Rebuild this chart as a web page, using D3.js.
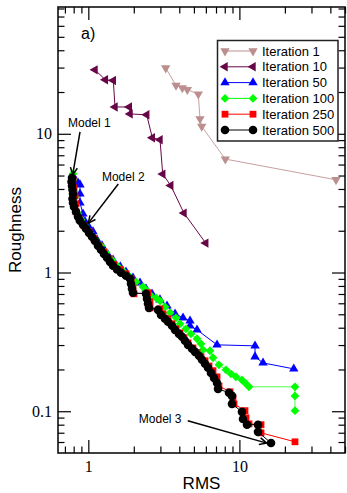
<!DOCTYPE html>
<html><head><meta charset="utf-8">
<script src="https://cdn.jsdelivr.net/npm/d3@7"></script>
<style>body{margin:0;background:#fff}svg{display:block}</style>
</head><body>
<svg id="c" width="347" height="493"></svg>
<script>
// ---- data ----
const seriesNames = ["Iteration 1","Iteration 10","Iteration 50","Iteration 100","Iteration 250","Iteration 500"];
const seriesColors = ["#bc8f8f","#670748","#0000ff","#00ff00","#ff0000","#000000"];
const iter1 = [[3.253,29.8],[3.805,22.3],[4.190,21.4],[4.521,20.8],[5.346,19.3],[5.486,12.8],[5.630,11.3],[8.067,6.57],[43.6,4.66]];
const iter10 = [[1.107,28.9],[1.296,24.5],[1.464,24.2],[1.502,15.6],[1.867,15.6],[1.888,13.9],[2.435,13.7],[2.652,9.36],[2.982,9.05],[3.108,5.12],[3.511,4.24],[4.298,2.68],[5.984,1.63]];
const iter50 = [[0.792,4.98],[0.855,4.43],[0.881,4.29],[0.881,3.69],[0.881,3.18],[0.922,2.65],[0.951,2.34],[1.011,2.12],[1.074,1.97],[1.142,1.72],[1.232,1.56],[1.350,1.34],[1.457,1.23],[1.628,1.10],[1.776,1.01],[1.976,0.916],[2.199,0.843],[2.409,0.763],[2.640,0.702],[2.982,0.636],[3.318,0.575],[3.749,0.504],[4.235,0.471],[4.711,0.448],[4.711,0.413],[5.242,0.386],[7.110,0.301],[12.69,0.296],[12.69,0.247],[14.33,0.223],[22.9,0.202]];
const iter100 = [[0.792,5.15],[0.792,4.66],[0.792,4.22],[0.804,3.82],[0.817,3.51],[0.829,3.08],[0.855,2.65],[0.895,2.40],[0.951,2.17],[1.026,1.93],[1.107,1.75],[1.213,1.56],[1.309,1.39],[1.435,1.23],[1.573,1.10],[1.723,1.01],[1.888,0.931],[2.069,0.857],[2.301,0.789],[2.409,0.750],[2.561,0.691],[2.806,0.657],[2.982,0.625],[3.218,0.566],[3.473,0.512],[3.805,0.471],[4.045,0.427],[4.433,0.393],[4.783,0.361],[5.242,0.333],[5.570,0.306],[5.742,0.277],[6.389,0.273],[6.688,0.243],[7.328,0.216],[8.153,0.199],[8.800,0.186],[9.495,0.177],[10.40,0.168],[11.06,0.158],[11.57,0.150],[23.33,0.150],[23.33,0.129],[23.33,0.101]];
const iter250 = [[0.792,4.66],[0.804,4.08],[0.817,3.57],[0.829,3.13],[0.829,2.74],[0.868,2.44],[0.937,2.17],[1.011,1.97],[1.091,1.75],[1.177,1.56],[1.270,1.41],[1.371,1.26],[1.480,1.14],[1.628,1.05],[1.776,0.979],[1.917,0.901],[1.976,0.776],[2.006,0.702],[2.484,0.714],[2.561,0.615],[2.561,0.556],[2.982,0.547],[3.122,0.504],[3.369,0.464],[3.581,0.427],[3.805,0.393],[4.045,0.367],[4.298,0.338],[4.569,0.311],[4.932,0.286],[5.242,0.264],[5.570,0.247],[5.921,0.231],[6.293,0.212],[6.688,0.196],[7.110,0.177],[7.328,0.152],[8.666,0.138],[9.072,0.125],[9.211,0.113],[10.89,0.101],[11.06,0.0896],[11.57,0.0811],[13.90,0.080],[13.90,0.0699],[23.33,0.0602]];
const iter500 = [[0.780,4.82],[0.774,4.51],[0.780,4.22],[0.786,3.95],[0.792,3.69],[0.786,3.40],[0.792,3.18],[0.804,2.98],[0.829,2.74],[0.855,2.52],[0.881,2.36],[0.922,2.21],[0.966,2.07],[1.011,1.93],[1.058,1.81],[1.107,1.69],[1.159,1.56],[1.213,1.46],[1.270,1.36],[1.330,1.28],[1.392,1.19],[1.457,1.12],[1.549,1.05],[1.646,0.995],[1.776,0.947],[1.888,0.901],[1.917,0.829],[1.946,0.763],[1.976,0.714],[2.409,0.702],[2.446,0.646],[2.484,0.595],[2.522,0.556],[2.893,0.538],[3.028,0.495],[3.218,0.464],[3.369,0.441],[3.581,0.413],[3.749,0.386],[3.984,0.361],[4.171,0.344],[4.365,0.322],[4.569,0.301],[4.858,0.282],[5.085,0.268],[5.404,0.251],[5.656,0.235],[5.921,0.220],[6.198,0.206],[6.488,0.189],[6.791,0.174],[7.110,0.160],[7.219,0.145],[8.535,0.136],[8.934,0.129],[8.934,0.113],[10.40,0.099],[10.56,0.088],[11.23,0.080],[13.28,0.080],[13.28,0.071],[16.19,0.059]];
const allSeries = [iter1, iter10, iter50, iter100, iter250, iter500];
const xMajorTicks = [1, 10];
const xMinorTicks = [0.7,0.8,0.9,2,3,4,5,6,7,8,9,20,30,40,50];
const yMajorTicks = [0.1, 1, 10];
const yTickLabels = ["0.1","1","10"];
const yMinorTicks = [0.06,0.07,0.08,0.09,0.2,0.3,0.4,0.5,0.6,0.7,0.8,0.9,2,3,4,5,6,7,8,9,20,30,40,50,60,70,80];
const xDomain = [0.63, 50];
const yDomain = [0.05, 82];
// annotations: [label, textX, textY, arrowFromX, arrowFromY, arrowToX, arrowToY, anchor]
const annotations = [
  ["Model 1", 0.734, 11.23, 0.881, 10.34, 0.788, 5.06, "start"],
  ["Model 2", 1.704, 4.58, 1.579, 4.34, 1.0, 2.27, "middle"],
  ["Model 3", 2.99, 0.0825, 4.55, 0.0853, 15.16, 0.0589, "middle"]
];

// ---- layout ----
const L = 58, R = 345, T = 7, B = 453;
const svg = d3.select("#c");
const x = d3.scaleLog().domain(xDomain).range([L, R]);
const y = d3.scaleLog().domain(yDomain).range([B, T]);

const markerTypes = ["tridown","trileft","triup","diamond","square","circle"];
function markerPath(type){
  if(type==="circle") return d3.symbol(d3.symbolCircle, 58)();
  if(type==="square") return d3.symbol(d3.symbolSquare, 46)();
  if(type==="diamond") return "M0,-4.4L4.4,0L0,4.4L-4.4,0Z";
  return d3.symbol(d3.symbolTriangle, 38)();
}
function markerRot(type){
  if(type==="tridown") return 180;
  if(type==="trileft") return -90;
  return 0;
}

// clip
svg.append("clipPath").attr("id","clip").append("rect").attr("x",L).attr("y",T).attr("width",R-L).attr("height",B-T);

const plot = svg.append("g").attr("clip-path","url(#clip)");
const line = d3.line().x(d=>x(d[0])).y(d=>y(d[1]));
allSeries.forEach((s,i)=>{
  const col = seriesColors[i];
  const g = plot.append("g");
  g.append("path").datum(s).attr("d",line).attr("fill","none").attr("stroke",col).attr("stroke-width",1)
    .attr("stroke-opacity", i===0?0.85:(i===3?0.7:1));
  g.selectAll("path.m").data(s).enter().append("path").attr("class","m")
    .attr("d",markerPath(markerTypes[i]))
    .attr("transform",d=>`translate(${x(d[0])},${y(d[1])}) rotate(${markerRot(markerTypes[i])})`)
    .attr("fill",col);
});

// axes
const fontSerif = "'Liberation Serif','Times New Roman',serif";
const fontSans = "'Liberation Sans',Arial,Helvetica,sans-serif";
function styleAxis(g){ g.select(".domain").remove(); g.selectAll("line").attr("stroke","#000").attr("stroke-width",1.2); }
svg.append("g").attr("transform",`translate(0,${B})`).call(d3.axisBottom(x).tickValues(xMajorTicks).tickSize(-13).tickPadding(8).tickFormat(d3.format("d")))
  .call(styleAxis).call(g=>g.selectAll("text").attr("font-family",fontSerif).attr("font-size",16).attr("fill","#000"));
svg.append("g").attr("transform",`translate(0,${B})`).call(d3.axisBottom(x).tickValues(xMinorTicks).tickSize(-6.5).tickFormat(""))
  .call(styleAxis);
svg.append("g").attr("transform",`translate(0,${T})`).call(d3.axisTop(x).tickValues(xMajorTicks).tickSize(-13).tickFormat(""))
  .call(styleAxis);
svg.append("g").attr("transform",`translate(0,${T})`).call(d3.axisTop(x).tickValues(xMinorTicks).tickSize(-6.5).tickFormat(""))
  .call(styleAxis);
svg.append("g").attr("transform",`translate(${L},0)`).call(d3.axisLeft(y).tickValues(yMajorTicks).tickSize(-13).tickPadding(6).tickFormat((d,i)=>yTickLabels[i]))
  .call(styleAxis).call(g=>g.selectAll("text").attr("font-family",fontSerif).attr("font-size",16).attr("fill","#000"));
svg.append("g").attr("transform",`translate(${L},0)`).call(d3.axisLeft(y).tickValues(yMinorTicks).tickSize(-6.5).tickFormat(""))
  .call(styleAxis);
svg.append("g").attr("transform",`translate(${R},0)`).call(d3.axisRight(y).tickValues(yMajorTicks).tickSize(-13).tickFormat(""))
  .call(styleAxis);
svg.append("g").attr("transform",`translate(${R},0)`).call(d3.axisRight(y).tickValues(yMinorTicks).tickSize(-6.5).tickFormat(""))
  .call(styleAxis);
svg.append("rect").attr("x",L).attr("y",T).attr("width",R-L).attr("height",B-T).attr("fill","none").attr("stroke","#000").attr("stroke-width",1.5);

// axis titles
svg.append("text").attr("x",(L+R)/2).attr("y",489).attr("text-anchor","middle").attr("font-family",fontSans).attr("font-size",17).text("RMS");
svg.append("text").attr("transform","translate(21,230) rotate(-90)").attr("text-anchor","middle").attr("font-family",fontSans).attr("font-size",17).text("Roughness");
svg.append("text").attr("x",81).attr("y",39).attr("font-family",fontSans).attr("font-size",16).text("a)");

// annotations
annotations.forEach(a=>{
  svg.append("text").attr("x",x(a[1])).attr("y",y(a[2])).attr("text-anchor",a[7]).attr("font-family",fontSans).attr("font-size",12).text(a[0]);
  const x1=x(a[3]), y1=y(a[4]), x2=x(a[5]), y2=y(a[6]);
  svg.append("line").attr("x1",x1).attr("y1",y1).attr("x2",x2).attr("y2",y2).attr("stroke","#000").attr("stroke-width",1.5);
  const ang=Math.atan2(y2-y1,x2-x1), hl=8, hw=0.45;
  const p1=[x2-hl*Math.cos(ang-hw), y2-hl*Math.sin(ang-hw)], p2=[x2-hl*Math.cos(ang+hw), y2-hl*Math.sin(ang+hw)];
  svg.append("path").attr("d",`M${p1}L${x2},${y2}L${p2}`).attr("fill","none").attr("stroke","#000").attr("stroke-width",1.5);
});

// legend
const lg = svg.append("g");
lg.append("rect").attr("x",217.5).attr("y",40.5).attr("width",120.5).attr("height",100.5).attr("fill","#fff").attr("stroke","#222").attr("stroke-width",1.5);
seriesNames.forEach((n,i)=>{
  const yy = 51 + i*15.8;
  const col = seriesColors[i];
  lg.append("line").attr("x1",225).attr("x2",253).attr("y1",yy).attr("y2",yy).attr("stroke",col).attr("stroke-width",1);
  [225,253].forEach(xx=>lg.append("path").attr("d",markerPath(markerTypes[i])).attr("transform",`translate(${xx},${yy}) rotate(${markerRot(markerTypes[i])})`).attr("fill",col));
  lg.append("text").attr("x",262).attr("y",yy+4.5).attr("font-family",fontSans).attr("font-size",13).text(n);
});
</script>
</body></html>
